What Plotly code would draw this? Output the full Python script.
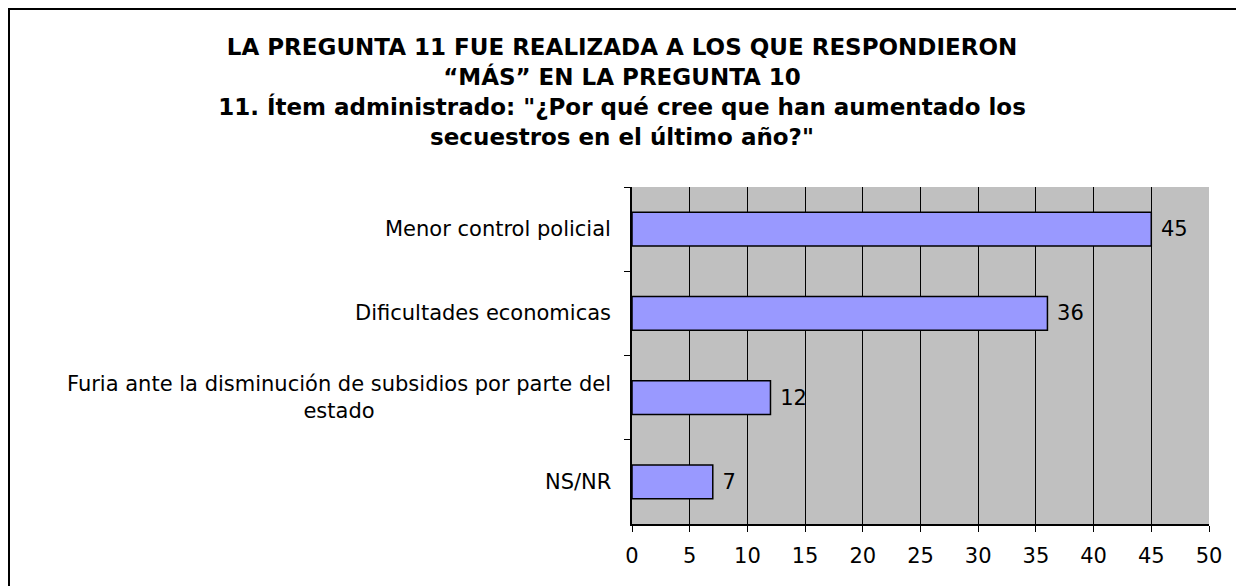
import plotly.graph_objects as go

categories = [
    "Menor control policial",
    "Dificultades economicas",
    "Furia ante la disminución de subsidios por parte del<br>estado",
    "NS/NR",
]
values = [45, 36, 12, 7]
x_ticks = [0, 5, 10, 15, 20, 25, 30, 35, 40, 45, 50]

title_text = (
    "<b>LA PREGUNTA 11 FUE REALIZADA A LOS QUE RESPONDIERON<br>"
    "“MÁS” EN LA PREGUNTA 10<br>"
    "11. Ítem administrado: \"¿Por qué cree que han aumentado los<br>"
    "secuestros en el último año?\"</b>"
)

# the page body adds an 8px offset, so the margins are set 8px smaller
W, H = 1244, 586
L, R, T, B = 624, 43, 179, 70
pw, ph = W - L - R, H - T - B

fig = go.Figure()
fig.add_trace(go.Bar(
    y=categories, x=values, orientation="h",
    marker=dict(color="#9999FF", line=dict(color="black", width=1.5)),
    texttemplate="\u00a0%{x}", textposition="outside", cliponaxis=False,
    textfont=dict(family="DejaVu Sans", size=21, color="black"),
))

# category labels as annotations so the wrapped one can be centred
for c in categories:
    fig.add_annotation(
        x=0, xref="paper", y=c, yref="y", text=c, showarrow=False,
        xanchor="right", align="center", xshift=-19,
        font=dict(family="DejaVu Sans", size=21, color="black"),
    )

# outer frame of the chart
fig.add_shape(
    type="rect", xref="paper", yref="paper",
    x0=(1 - L) / pw, x1=(1233 - L) / pw,
    y0=(H - B - 620) / ph, y1=(H - B - 1) / ph,
    line=dict(color="black", width=2), fillcolor="rgba(0,0,0,0)", layer="below",
)

fig.update_layout(
    width=W, height=H,
    margin=dict(l=L, r=R, t=T, b=B),
    paper_bgcolor="white", plot_bgcolor="#C0C0C0",
    bargap=0.6, showlegend=False,
    font=dict(family="DejaVu Sans", size=21, color="black"),
    title=dict(
        text=title_text, x=(622 - 8) / W, xref="container", xanchor="center",
        y=1 - 47 / H, yref="container", yanchor="top",
        font=dict(family="DejaVu Sans", size=23, color="black"),
    ),
    xaxis=dict(
        range=[0, 50], tickvals=x_ticks, showgrid=True, gridcolor="black", gridwidth=1,
        showline=True, linecolor="black", linewidth=1.5, ticks="outside", ticklen=6,
        tickcolor="black", zeroline=False, tickfont=dict(size=21), ticklabelstandoff=6,
    ),
    yaxis=dict(
        autorange="reversed", showline=True, linecolor="black", linewidth=1.5,
        ticks="outside", ticklen=6, tickcolor="black", tickson="boundaries",
        showticklabels=False, showgrid=False,
    ),
)

fig.write_html("out.html")
